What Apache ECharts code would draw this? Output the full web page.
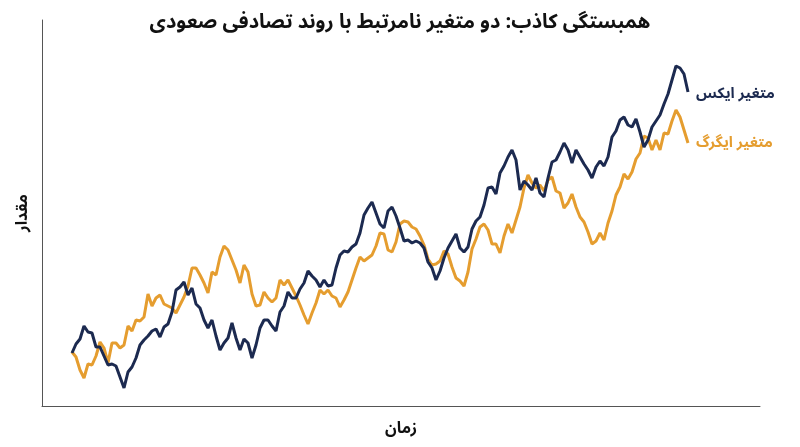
<!DOCTYPE html>
<html>
<head>
<meta charset="utf-8">
<script src="https://cdn.jsdelivr.net/npm/echarts@6/dist/echarts.min.js"></script>
<style>html,body{margin:0;padding:0;background:#fff}#c{width:800px;height:447px}</style>
</head>
<body>
<div id="c"></div>
<script>
var titleText = 'همبستگی کاذب: دو متغیر نامرتبط با روند تصادفی صعودی';
var xAxisName = 'زمان';
var yAxisName = 'مقدار';
var nameX = 'متغیر ایکس';
var nameY = 'متغیر ایگرگ';
var seriesX = [0.2,1.1,1.6,2.9,2.3,2.2,0.8,0.8,-0.1,-1.0,-0.9,-1.1,-2.2,-3.3,-1.7,-1.2,-0.3,1.0,1.5,1.9,2.4,2.6,1.8,2.8,3.1,4.3,6.5,6.8,7.3,6.0,6.7,5.1,4.7,3.5,2.7,3.5,1.9,0.5,1.2,1.7,3.2,1.7,0.5,1.6,1.2,-0.3,1.0,2.7,3.5,3.5,2.9,2.4,4.3,4.9,6.3,5.7,5.7,6.6,7.2,8.4,7.9,7.5,6.8,7.5,6.9,7.0,8.7,10.0,10.4,10.3,10.8,11.1,12.2,14.0,14.7,15.3,14.2,13.1,12.7,14.4,14.8,13.9,12.7,11.4,11.5,11.2,11.4,11.2,10.7,9.3,8.7,7.5,8.4,9.7,10.7,11.4,12.1,10.7,10.3,10.8,12.6,13.4,13.8,15.0,16.7,16.8,16.1,18.2,18.9,19.8,20.5,19.5,16.5,17.4,17.0,16.5,17.7,16.2,15.8,17.7,19.3,19.5,20.3,21.2,20.5,19.2,20.5,19.8,19.1,18.5,17.7,18.8,19.4,18.9,19.8,21.8,22.4,23.5,23.8,23.0,22.8,23.6,22.3,20.8,21.5,22.8,23.4,24.0,25.1,26.1,27.5,28.9,28.7,28.1,26.3];
var seriesY = [0.3,-0.2,-1.5,-2.3,-0.9,-1.0,-0.1,1.3,0.7,-0.8,1.2,1.2,0.7,1.0,2.9,2.4,3.5,3.4,3.8,6.1,4.9,5.7,6.0,5.1,4.9,4.7,4.2,5.0,5.8,6.9,8.7,8.7,8.0,7.2,6.2,8.3,8.0,9.8,10.9,10.5,9.5,8.5,7.2,9.0,8.3,6.1,4.9,5.0,6.3,5.7,5.3,5.7,7.5,7.0,7.5,6.7,5.9,5.0,4.0,3.1,4.2,5.2,6.5,6.1,6.5,5.9,5.7,4.8,5.5,6.3,7.5,8.7,9.8,9.4,9.7,10.0,10.9,12.2,12.1,10.5,10.3,11.3,13.1,13.4,13.3,12.8,12.6,11.9,11.0,9.6,9.0,9.1,9.4,10.4,10.1,8.8,7.7,7.4,6.9,8.3,10.6,11.6,12.8,13.1,12.5,11.1,11.1,10.2,11.9,13.1,12.2,13.5,14.8,16.7,18.0,17.2,16.7,17.0,16.4,17.5,17.8,16.4,16.2,14.7,15.2,16.1,14.8,13.8,13.3,12.3,11.1,11.4,12.2,11.5,13.2,14.4,16.0,16.8,18.1,17.6,18.3,19.6,20.2,21.9,21.7,20.5,21.5,20.5,22.2,22.1,23.4,24.5,23.8,22.5,21.2];

var timeIdx = seriesX.map(function(_, i){ return i; });
function pairs(vals){ return vals.map(function(v, i){ return [timeIdx[i], v]; }); }

var font = "'Noto Sans Arabic','Vazirmatn','DejaVu Sans',sans-serif";
var chart = echarts.init(document.getElementById('c'), null, {renderer:'canvas'});
chart.setOption({
  animation: false,
  backgroundColor: '#fff',
  title: {
    text: titleText, left: 'center', top: 10,
    textStyle: {fontFamily: font, fontSize: 20, fontWeight: 'bold', color: '#111'}
  },
  grid: {left: 42, right: 40, top: 20, bottom: 41, containLabel: false},
  xAxis: {
    type: 'value', min: -7.5, max: 172,
    name: xAxisName, nameLocation: 'middle', nameGap: 17,
    nameTextStyle: {fontFamily: font, fontSize: 16, fontWeight: 'bold', color: '#111'},
    axisLine: {show: true, onZero: false, lineStyle: {color: '#555', width: 1}},
    axisTick: {show: false}, axisLabel: {show: false}, splitLine: {show: false}
  },
  yAxis: {
    type: 'value', min: -5.1, max: 33.5,
    name: yAxisName, nameLocation: 'middle', nameGap: 9, nameRotate: 90,
    nameTextStyle: {fontFamily: font, fontSize: 16, fontWeight: 'bold', color: '#111'},
    axisLine: {show: true, onZero: false, lineStyle: {color: '#555', width: 1}},
    axisTick: {show: false}, axisLabel: {show: false}, splitLine: {show: false}
  },
  series: [
    {
      name: nameY, type: 'line', data: pairs(seriesY), showSymbol: false, symbol: 'none',
      lineStyle: {color: '#e59d2f', width: 3}, itemStyle: {color: '#e59d2f'},
      endLabel: {show: true, formatter: '{a}', distance: 8, offset: [0, 2],
        color: '#e59d2f', fontFamily: font, fontSize: 15, fontWeight: 'bold'},
      z: 2
    },
    {
      name: nameX, type: 'line', data: pairs(seriesX), showSymbol: false, symbol: 'none',
      lineStyle: {color: '#1c2a50', width: 3}, itemStyle: {color: '#1c2a50'},
      endLabel: {show: true, formatter: '{a}', distance: 8, offset: [0, 4],
        color: '#1c2a50', fontFamily: font, fontSize: 15, fontWeight: 'bold'},
      z: 3
    }
  ]
});
</script>
</body>
</html>
